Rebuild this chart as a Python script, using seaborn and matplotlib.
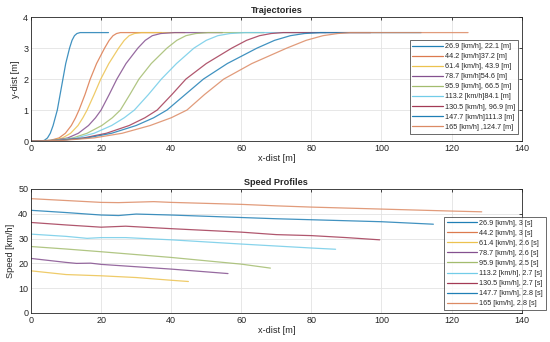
import matplotlib
matplotlib.use('Agg')
import matplotlib.pyplot as plt
from matplotlib.lines import Line2D
import seaborn as sns

# ---- data ----
traj_labels = ['26.9 [km/h], 22.1 [m]', '44.2 [km/h]37.2 [m]', '61.4 [km/h], 43.9 [m]',
               '78.7 [km/h]54.6 [m]', '95.9 [km/h], 66.5 [m]', '113.2 [km/h]84.1 [m]',
               '130.5 [km/h], 96.9 [m]', '147.7 [km/h]111.3 [m]', '165 [km/h] ,124.7 [m]']
speed_labels = ['26.9 [km/h], 3 [s]', '44.2 [km/h], 3 [s]', '61.4 [km/h], 2.6 [s]',
                '78.7 [km/h], 2.6 [s]', '95.9 [km/h], 2.5 [s]', '113.2 [km/h], 2.7 [s]',
                '130.5 [km/h], 2.7 [s]', '147.7 [km/h], 2.8 [s]', '165 [km/h], 2.8 [s]']

# lateral offset levels shared by all trajectories, x where each curve reaches them
traj_y = [0, 0.02, 0.1, 0.25, 0.5, 0.75, 1.0, 1.5, 2.0, 2.5, 3.0, 3.25, 3.4, 3.47, 3.5, 3.5]
traj_x_269 = [3.0, 3.8, 4.7, 5.5, 6.3, 6.9, 7.5, 8.3, 9.1, 9.9, 11.0, 11.7, 12.4, 13.1, 14.0, 22.1]
traj_x_442 = [0, 5.5, 8.0, 9.8, 11.5, 12.7, 13.7, 15.4, 16.9, 18.7, 21.0, 22.3, 23.4, 24.4, 25.5, 37.2]
traj_x_614 = [0, 6, 9.0, 11.3, 13.4, 14.8, 16.0, 18.0, 19.9, 22.2, 25.0, 26.6, 28.0, 29.5, 31.5, 43.9]
traj_x_787 = [0, 6.5, 10.5, 13.5, 16.4, 18.4, 20.0, 22.3, 24.5, 27.1, 30.5, 32.6, 34.6, 37.0, 41.0, 54.6]
traj_x_959 = [0, 7, 12, 16, 20.2, 23.2, 25.5, 28.2, 30.8, 34.3, 38.8, 41.6, 44.2, 47.0, 50.5, 66.5]
traj_x_1132 = [0, 7, 13, 18, 23.0, 26.6, 29.5, 33.5, 37.2, 41.5, 46.5, 50.0, 53.3, 56.8, 61.0, 84.1]
traj_x_1305 = [0, 8, 15, 21.5, 28, 32.5, 36, 40.2, 44.2, 50.0, 57.3, 61.5, 65.2, 68.5, 72.0, 96.9]
traj_x_1477 = [0, 8, 16, 23, 30, 35, 38.8, 44.0, 49.2, 56.0, 64.5, 69.5, 74.0, 78.0, 82.5, 111.3]
traj_x_165 = [0, 9, 18, 26, 34, 40, 44.5, 49.5, 55.0, 63.0, 73.0, 78.5, 83.3, 87.5, 91.0, 124.7]

# speed profiles (26.9 and 44.2 are not visible in the plot)
sp_x_614 = [0, 10, 20, 30, 40, 44.9]
sp_v_614 = [17.0, 15.5, 15.0, 14.3, 13.2, 12.7]
sp_x_787 = [0, 10, 13, 17, 20, 40, 56.2]
sp_v_787 = [22.0, 20.4, 20.0, 20.1, 19.6, 17.7, 15.9]
sp_x_959 = [0, 10, 20, 40, 60, 68.3]
sp_v_959 = [26.8, 25.8, 24.7, 22.4, 19.7, 18.1]
sp_x_1132 = [0, 10, 16, 20, 27, 40, 60, 70, 80, 86.9]
sp_v_1132 = [31.8, 30.9, 30.1, 30.4, 30.4, 29.5, 27.8, 27.0, 26.2, 25.7]
sp_x_1305 = [0, 10, 20, 27, 40, 60, 70, 80, 90, 99.5]
sp_v_1305 = [36.5, 35.5, 34.6, 35.0, 34.0, 32.6, 31.6, 31.2, 30.4, 29.5]
sp_x_1477 = [0, 10, 20, 25, 30, 40, 60, 70, 80, 100, 114.8]
sp_v_1477 = [41.4, 40.5, 39.5, 39.3, 39.9, 39.5, 38.5, 38.0, 37.6, 36.8, 35.8]
sp_x_165 = [0, 20, 25, 35, 40, 60, 70, 80, 100, 120, 128.6]
sp_v_165 = [46.1, 44.6, 44.5, 44.9, 44.6, 43.8, 43.2, 42.7, 41.9, 41.1, 40.8]

traj_x = [traj_x_269, traj_x_442, traj_x_614, traj_x_787, traj_x_959,
          traj_x_1132, traj_x_1305, traj_x_1477, traj_x_165]
sp_x = [None, None, sp_x_614, sp_x_787, sp_x_959, sp_x_1132, sp_x_1305, sp_x_1477, sp_x_165]
sp_v = [None, None, sp_v_614, sp_v_787, sp_v_959, sp_v_1132, sp_v_1305, sp_v_1477, sp_v_165]

colors = ['#1f7fb5', '#dc7a4e', '#ecc24f', '#84508f', '#a3bc6e',
          '#72cce8', '#a33a55', '#1f7fb5', '#dc8a64']

sns.set_style('whitegrid')
plt.rcParams['font.family'] = ['Liberation Sans', 'DejaVu Sans']

fig = plt.figure(figsize=(5.5, 3.42), dpi=100)
ax1 = fig.add_axes([0.0564, 0.5877, 0.8921, 0.3623])
ax2 = fig.add_axes([0.0564, 0.0848, 0.8921, 0.3626])

for i in range(9):
    sns.lineplot(x=traj_x[i], y=traj_y, ax=ax1, color=colors[i], lw=0.9,
                 sort=False, estimator=None, alpha=0.85)
    if sp_x[i] is not None:
        sns.lineplot(x=sp_x[i], y=sp_v[i], ax=ax2, color=colors[i], lw=0.9,
                     sort=False, estimator=None, alpha=0.85)

for ax, title, ylab, ylim, yt in [(ax1, 'Trajectories', 'y-dist [m]', (0, 4), [0, 1, 2, 3, 4]),
                                  (ax2, 'Speed Profiles', 'Speed [km/h]', (0, 50), [0, 10, 20, 30, 40, 50])]:
    ax.set_xlim(0, 140)
    ax.set_ylim(*ylim)
    ax.set_xticks([0, 20, 40, 60, 80, 100, 120, 140])
    ax.set_yticks(yt)
    ax.grid(True, color='#e3e3e3', lw=0.6)
    ax.set_title(title, fontsize=6.6, fontweight='bold', pad=3)
    ax.set_xlabel('x-dist [m]', fontsize=6.6, color='#262626', labelpad=1)
    ax.set_ylabel(ylab, fontsize=6.6, color='#262626', labelpad=2)
    ax.tick_params(axis='both', labelsize=6.5, colors='#262626', direction='in',
                   length=2.5, width=0.6, top=True, right=True, pad=2)
    for s in ax.spines.values():
        s.set_color('#262626')
        s.set_linewidth(0.6)

h1 = [Line2D([], [], color=c, lw=0.9) for c in colors]
leg1 = ax1.legend(h1, traj_labels, loc='upper right', bbox_to_anchor=(0.9925, 0.8145),
                  borderaxespad=0, fontsize=5.2, handlelength=4.2, frameon=True,
                  fancybox=False, edgecolor='#262626', labelspacing=0.42,
                  borderpad=0.4, handletextpad=0.3)
leg1.get_frame().set_linewidth(0.6)
leg2 = ax2.legend(h1, speed_labels, loc='upper right', bbox_to_anchor=(1.049, 0.777),
                  borderaxespad=0, fontsize=5.2, handlelength=4.2, frameon=True,
                  fancybox=False, edgecolor='#262626', labelspacing=0.42,
                  borderpad=0.4, handletextpad=0.3)
leg2.get_frame().set_linewidth(0.6)

fig.savefig('out.png', dpi=100)
